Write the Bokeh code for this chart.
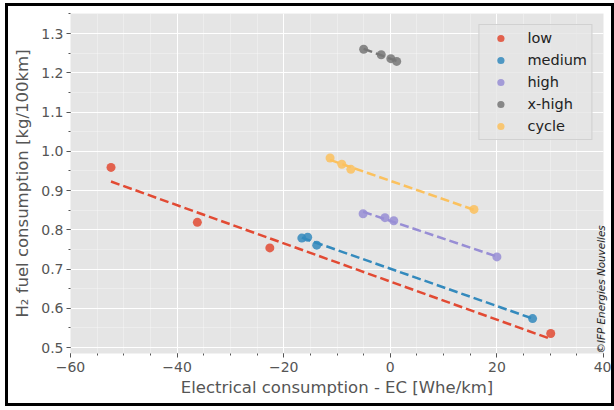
import math
from bokeh.plotting import figure
from bokeh.models import (Range1d, SingleIntervalTicker, CustomJSTickFormatter,
                          Legend, LegendItem, LinearAxis, FixedTicker)
from bokeh.embed import file_html
from bokeh.resources import INLINE

# ---- data ----
series_names = ["low", "medium", "high", "x-high", "cycle"]
series_colors = ["#E24A33", "#348ABD", "#988ED5", "#777777", "#FBC15E"]

low_x = [-52.4, -36.2, -22.6, 30.1]
low_y = [0.959, 0.819, 0.754, 0.536]
medium_x = [-16.6, -15.5, -13.8, 26.7]
medium_y = [0.779, 0.781, 0.761, 0.574]
high_x = [-5.1, -1.0, 0.65, 20.0]
high_y = [0.841, 0.831, 0.823, 0.731]
xhigh_x = [-5.0, -1.7, 0.1, 1.2]
xhigh_y = [1.260, 1.246, 1.236, 1.229]
cycle_x = [-11.3, -9.1, -7.4, 15.7]
cycle_y = [0.983, 0.967, 0.954, 0.852]

# dashed trend lines (end points)
low_fit_x = [-52.4, 30.1]
low_fit_y = [0.923, 0.522]
medium_fit_x = [-16.6, 26.7]
medium_fit_y = [0.780, 0.574]
high_fit_x = [-5.1, 20.0]
high_fit_y = [0.846, 0.732]
xhigh_fit_x = [-5.0, 1.2]
xhigh_fit_y = [1.261, 1.230]
cycle_fit_x = [-11.3, 15.7]
cycle_fit_y = [0.978, 0.851]

x_start, x_end = -60, 40
y_start, y_end = 0.485, 1.351

points = [(low_x, low_y), (medium_x, medium_y), (high_x, high_y),
          (xhigh_x, xhigh_y), (cycle_x, cycle_y)]
fits = [(low_fit_x, low_fit_y), (medium_fit_x, medium_fit_y), (high_fit_x, high_fit_y),
        (xhigh_fit_x, xhigh_fit_y), (cycle_fit_x, cycle_fit_y)]

W, H = 603, 397
p = figure(width=W, height=H, output_backend="svg", toolbar_location=None,
           x_range=Range1d(x_start, x_end), y_range=Range1d(y_start, y_end),
           min_border_left=62, min_border_right=14, min_border_top=7,
           min_border_bottom=56)
p.styles = {"border": "3px solid black", "margin-left": "5px", "margin-top": "3px",
            "box-sizing": "content-box"}

p.background_fill_color = "#E5E5E5"
p.border_fill_color = "white"
p.outline_line_color = None

p.xaxis.ticker = SingleIntervalTicker(interval=20, num_minor_ticks=4)
p.yaxis.ticker = SingleIntervalTicker(interval=0.1, num_minor_ticks=2)
p.xgrid.ticker = p.xaxis.ticker
p.ygrid.ticker = p.yaxis.ticker
p.xaxis.formatter = CustomJSTickFormatter(
    code="return tick < 0 ? '\u2212' + Math.abs(tick).toFixed(0) : tick.toFixed(0);")
p.yaxis.formatter = CustomJSTickFormatter(code="return tick.toFixed(1);")

for g in (p.xgrid, p.ygrid):
    g.grid_line_color = "white"
    g.grid_line_width = 1
    g.minor_grid_line_color = "white"
    g.minor_grid_line_alpha = 0.6
    g.minor_grid_line_width = 0.5

for ax in (p.xaxis, p.yaxis):
    ax.axis_line_color = None
    ax.major_tick_line_color = "#555555"
    ax.minor_tick_line_color = "#555555"
    ax.major_tick_in = 0
    ax.major_tick_out = 4
    ax.minor_tick_in = 0
    ax.minor_tick_out = 2
    ax.major_label_text_font = "DejaVu Sans"
    ax.major_label_text_font_size = "14px"
    ax.major_label_text_color = "#555555"
    ax.axis_label_text_font = "DejaVu Sans"
    ax.axis_label_text_font_size = "16.5px"
    ax.axis_label_text_font_style = "normal"
    ax.axis_label_text_color = "#555555"

p.xaxis.major_label_standoff = 4
p.yaxis.major_label_standoff = 3
p.xaxis.axis_label = "Electrical consumption - EC [Whe/km]"
p.xaxis.axis_label_standoff = 3
p.yaxis.axis_label = "H\u2082 fuel consumption [kg/100km]"
p.yaxis.axis_label_standoff = 6

# copyright note as the label of an empty right axis
copy_text = "\u00a9IFP Energies Nouvelles"
copy_axis = LinearAxis(ticker=FixedTicker(ticks=[]))
copy_axis.axis_line_color = None
copy_axis.major_tick_line_color = None
copy_axis.minor_tick_line_color = None
copy_axis.major_label_text_font_size = "0px"
copy_axis.major_tick_out = 0
copy_axis.major_label_standoff = 0
copy_axis.axis_label_standoff = -3
copy_axis.axis_label_text_font = "DejaVu Sans"
copy_axis.axis_label_text_font_size = "10.4px"
copy_axis.axis_label_text_font_style = "italic"
copy_axis.axis_label_text_color = "#222222"
copy_axis.axis_label_orientation = math.pi / 2
if "axis_label_align" in copy_axis.properties():
    copy_axis.axis_label_align = "start"
    copy_axis.axis_label = copy_text
else:
    copy_axis.axis_label = copy_text + "\u00a0" * 64
p.add_layout(copy_axis, "right")

items = []
for (fx, fy), (px, py), name, col in zip(fits, points, series_names, series_colors):
    p.line(fx, fy, line_color=col, line_width=2.5, line_dash="9 4")
    r = p.scatter(px, py, size=9, fill_color=col, fill_alpha=0.85, line_color=None)
    items.append(LegendItem(label=name, renderers=[r]))

legend = Legend(items=items, location="top_right")
legend.margin = 11
legend.padding = 4
legend.spacing = 4
legend.glyph_height = 18
legend.label_height = 18
legend.glyph_width = 34
legend.label_standoff = 10
legend.label_text_font = "DejaVu Sans"
legend.label_text_font_size = "14.5px"
legend.label_text_color = "#222222"
legend.background_fill_color = "#E5E5E5"
legend.background_fill_alpha = 0.8
legend.border_line_color = "#CCCCCC"
legend.border_line_alpha = 0.8
p.add_layout(legend, "center")

open("out.html", "w").write(file_html(p, INLINE))
